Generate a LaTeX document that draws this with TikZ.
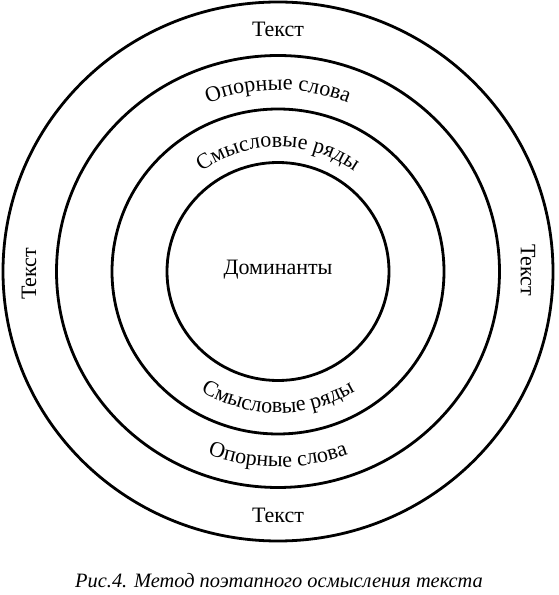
\documentclass[tikz,border=0pt]{standalone}
\usepackage{fontspec}
\setmainfont{Liberation Serif}
\usetikzlibrary{decorations.text,calc}
\begin{document}
\begin{tikzpicture}[x=1pt,y=1pt,
  ring/.style={line width=2.8pt},
  lbl/.style={font=\fontsize{22}{24}\selectfont, inner sep=0pt},
  captext/.style={font=\fontsize{20.4}{24}\selectfont\itshape, inner sep=0pt}]
\useasboundingbox (0,0) rectangle (558,595);
\coordinate (c) at (278,323.5);
% rings
\draw[ring] (c) ellipse [x radius=275pt, y radius=269.5pt];
\draw[ring] (c) ellipse [x radius=221.5pt, y radius=216pt];
\draw[ring] (c) ellipse [x radius=166pt, y radius=162.5pt];
\draw[ring] (c) ellipse [x radius=111pt, y radius=109pt];
% straight labels
\node[lbl, anchor=base] (t1) at (278,558) {Текст};
\node[lbl, anchor=base] (t2) at (278,72) {Текст};
\node[lbl, rotate=90] (t3) at (29,321) {Текст};
\node[lbl, rotate=-90] (t4) at (528,325) {Текст};
\node[lbl, anchor=base] (dom) at (278,320) {Доминанты};
% curved labels, top
\path[decorate, decoration={text along path, text align=center,
  text={|\fontsize{22}{24}\selectfont|Опорные слова}}]
  ($(c)+(160:187pt and 181.5pt)$) arc[start angle=160, end angle=20, x radius=187pt, y radius=181.5pt];
\path[decorate, decoration={text along path, text align=center,
  text={|\fontsize{22}{24}\selectfont|Смысловые ряды}}]
  ($(c)+(160:128pt and 124.5pt)$) arc[start angle=160, end angle=20, x radius=128pt, y radius=124.5pt];
% curved labels, bottom
\path[decorate, decoration={text along path, text align=center,
  text={|\fontsize{22}{24}\selectfont|Смысловые ряды}}]
  ($(c)+(200:145pt and 141.5pt)$) arc[start angle=200, end angle=340, x radius=145pt, y radius=141.5pt];
\path[decorate, decoration={text along path, text align=center,
  text={|\fontsize{22}{24}\selectfont|Опорные слова}}]
  ($(c)+(200:200.5pt and 195.5pt)$) arc[start angle=200, end angle=340, x radius=200.5pt, y radius=195.5pt];
% caption
\node[captext, anchor=base] (caption) at (279,7) {Рис.4. Метод поэтапного осмысления текста};
\end{tikzpicture}
\end{document}
